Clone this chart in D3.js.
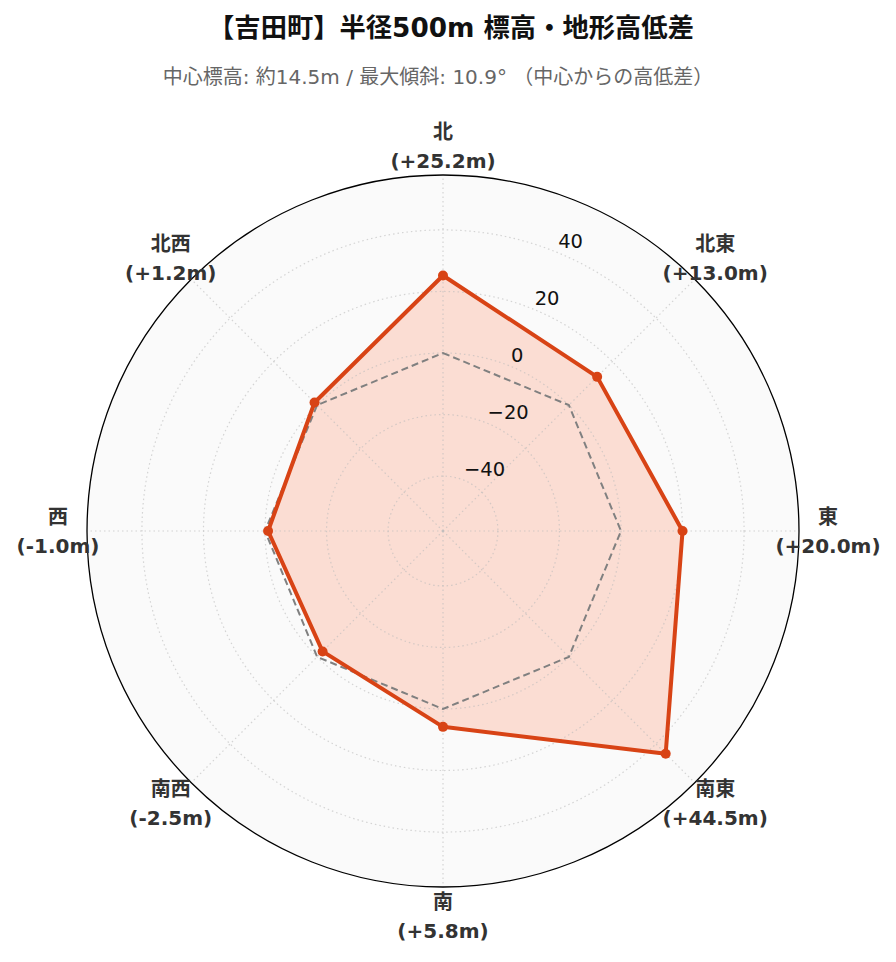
<!DOCTYPE html>
<html><head><meta charset="utf-8">
<script src="https://cdn.jsdelivr.net/npm/d3@7"></script>
<style>body{margin:0;background:#fff}svg{display:block}</style>
</head><body>
<svg id="chart" width="896" height="962"></svg>
<script>
const directions = ["北","北東","東","南東","南","南西","西","北西"];
const diffs = [25.2, 13.0, 20.0, 44.5, 5.8, -2.5, -1.0, 1.2];
const radialTicks = [-40, -20, 0, 20, 40];
const titleText = "【吉田町】半径500m 標高・地形高低差";
const subtitleText = "中心標高: 約14.5m / 最大傾斜: 10.9° （中心からの高低差）";

const W = 896, H = 962, cx = 443, cy = 531, R = 356;
const rMax = d3.max(diffs.map(Math.abs)) * 1.3;
const svg = d3.select("#chart");
const r = d3.scaleLinear().domain([-rMax, rMax]).range([0, R]);
const ang = d3.scalePoint().domain(directions).range([0, 2*Math.PI*(7/8)]);
const g = svg.append("g").attr("transform", `translate(${cx},${cy})`);
const mixed = "'DejaVu Sans', 'Noto Sans CJK JP', sans-serif";

svg.append("text").attr("x", 451).attr("y", 28).attr("text-anchor","middle")
  .attr("dominant-baseline","central").style("font-family", mixed).style("font-weight","bold")
  .style("font-size","26.3px").attr("fill","#111").text(titleText);
svg.append("text").attr("x", 438).attr("y", 77).attr("text-anchor","middle")
  .attr("dominant-baseline","central").style("font-family", mixed)
  .style("font-size","20px").attr("fill","#666").text(subtitleText);

// background
g.append("circle").attr("r", R).attr("fill", "#fafafa");

// area fill
const pts = directions.map((d,i)=>({a: ang(d), v: diffs[i]}));
const line = d3.lineRadial().angle(d=>d.a).radius(d=>r(d.v)).curve(d3.curveLinearClosed);
g.append("path").attr("d", line(pts)).attr("fill", "#ff5722").attr("fill-opacity", 0.18);

// grid
const gridG = g.append("g");
radialTicks.forEach(t=>{
  gridG.append("circle").attr("r", r(t)).attr("fill","none").attr("stroke","#bbb")
    .attr("stroke-opacity",0.6).attr("stroke-width",1.2).attr("stroke-dasharray","1.5,3");
});
directions.forEach(d=>{
  const a = ang(d);
  gridG.append("line").attr("x1",0).attr("y1",0)
    .attr("x2", R*Math.sin(a)).attr("y2", -R*Math.cos(a))
    .attr("stroke","#bbb").attr("stroke-opacity",0.6).attr("stroke-width",1.2).attr("stroke-dasharray","1.5,3");
});

// zero reference
const zeroPts = directions.map(d=>({a: ang(d), v: 0}));
g.append("path").attr("d", line(zeroPts)).attr("fill","none").attr("stroke","#808080")
  .attr("stroke-width",2).attr("stroke-dasharray","7,4");

// data line
g.append("path").attr("d", line(pts)).attr("fill","none").attr("stroke","#d84315")
  .attr("stroke-width",4).attr("stroke-linejoin","round");
g.selectAll("circle.pt").data(pts).enter().append("circle").attr("class","pt")
  .attr("cx", d=>r(d.v)*Math.sin(d.a)).attr("cy", d=>-r(d.v)*Math.cos(d.a))
  .attr("r", 5).attr("fill","#d84315");

// outer circle
g.append("circle").attr("r", R).attr("fill","none").attr("stroke","#000").attr("stroke-width",1.3);

// radial tick labels
const tickAng = Math.PI/8;
radialTicks.forEach(t=>{
  g.append("text").attr("x", r(t)*Math.sin(tickAng)).attr("y", -r(t)*Math.cos(tickAng) - 11)
    .attr("dominant-baseline","central").style("font-family", mixed).style("font-size","19.5px")
    .attr("fill","#111").text(t < 0 ? "\u2212" + Math.abs(t) : String(t));
});

// category labels
const LR = 385;
directions.forEach((d,i)=>{
  const a = ang(d);
  const x = LR*Math.sin(a), y = -LR*Math.cos(a);
  const v = diffs[i];
  const lbl = "(" + (v >= 0 ? "+" : "") + v.toFixed(1) + "m)";
  const t = g.append("text").attr("text-anchor","middle").style("font-family", mixed)
    .style("font-weight","bold").style("font-size","20px").attr("fill","#333");
  t.append("tspan").attr("x", x).attr("y", y-14.5).attr("dominant-baseline","central").text(d);
  t.append("tspan").attr("x", x).attr("y", y+14.5).attr("dominant-baseline","central").text(lbl);
});
</script>
</body></html>
